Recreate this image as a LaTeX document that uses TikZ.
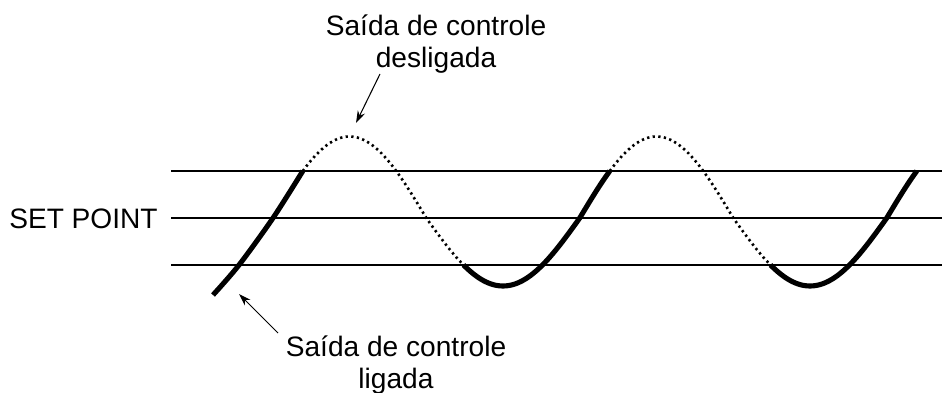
\documentclass[tikz,border=0pt]{standalone}
\usepackage{fontspec}
\setmainfont{Liberation Sans}
\usetikzlibrary{arrows.meta}

\begin{document}
\begin{tikzpicture}[x=0.02cm, y=-0.02cm, line join=round,
    declare function={onda(\x)=218-74.75*cos(1.17264*(\x-349.5))-6.75*abs(cos(1.17264*(\x-349.5)));},
    nivel/.style={line width=1.1pt},
    ligado/.style={line width=2.9pt},
    desligado/.style={line width=1.5pt, dash pattern=on 1.3pt off 1.9pt},
    legenda/.style={font=\fontsize{16}{18}\selectfont, align=center, inner sep=0pt},
    seta/.style={line width=0.6pt, -{Stealth[length=7pt,width=4.5pt]}}]
    \useasboundingbox (0,0) rectangle (942,392);

    % faixa de histerese
    \draw[nivel] (171,171) -- (942,171);
    \draw[nivel] (171,218) -- (942,218); % set point
    \draw[nivel] (171,265) -- (942,265);

    % temperatura: cheia = ligada, pontilhada = desligada
    \draw[ligado] plot[smooth] coordinates {(213,295) (239,265) (273,218) (302.8,171)};
    \draw[desligado] plot[domain=302.8:463.5, samples=60] (\x,{onda(\x)});
    \draw[ligado] plot[domain=463.5:609.8, samples=60] (\x,{onda(\x)});
    \draw[desligado] plot[domain=609.8:770.5, samples=60] (\x,{onda(\x)});
    \draw[ligado] plot[domain=770.5:916.8, samples=60] (\x,{onda(\x)});

    \node[legenda, anchor=base east] (sp) at (158,228) {SET POINT};
    \node[legenda, anchor=base] (desl) at (436,67) {Saída de controle\\desligada};
    \node[legenda, anchor=base] (lig) at (396,388) {Saída de controle\\ligada};

    \coordinate (caudaA) at (380,74);
    \coordinate (pontaA) at (356,123);
    \coordinate (caudaB) at (278,333);
    \coordinate (pontaB) at (239,294);
    \draw[seta] (caudaA) -- (pontaA);
    \draw[seta] (caudaB) -- (pontaB);
\end{tikzpicture}
\end{document}
